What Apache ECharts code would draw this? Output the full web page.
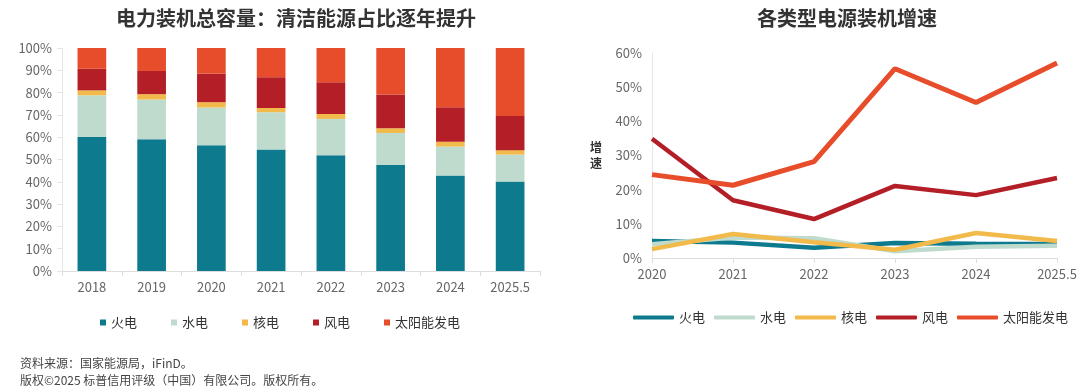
<!DOCTYPE html>
<html><head><meta charset="utf-8">
<script src="https://cdn.jsdelivr.net/npm/echarts@6/dist/echarts.min.js"></script>
<style>html,body{margin:0;padding:0;background:#fff}#c{width:1080px;height:389px}</style>
</head><body><div id="c"></div>
<script>
// ---- Data ----
const barCategories = ['2018','2019','2020','2021','2022','2023','2024','2025.5'];
const seriesNames = ['火电','水电','核电','风电','太阳能发电'];
// share of total installed capacity (%)
const shareThermal = [60.1, 59.1, 56.4, 54.5, 51.9, 47.5, 42.8, 40.1];
const shareHydro   = [18.7, 17.8, 16.9, 16.7, 16.3, 14.4, 13.0, 12.1];
const shareNuclear = [2.2, 2.4, 2.4, 1.9, 2.2, 2.1, 2.2, 2.0];
const shareWind    = [9.7, 10.4, 12.8, 13.8, 14.2, 15.1, 15.4, 15.3];
const shareSolar   = [9.3, 10.3, 11.5, 13.1, 15.4, 20.9, 26.6, 30.5];
const lineCategories = ['2020','2021','2022','2023','2024','2025.5'];
// growth rate (%)
const growthThermal = [5.0, 4.5, 3.0, 4.4, 4.2, 4.1];
const growthHydro   = [4.0, 6.0, 5.8, 2.0, 3.3, 3.6];
const growthNuclear = [2.6, 7.0, 4.6, 2.4, 7.3, 5.0];
const growthWind    = [34.9, 16.9, 11.4, 21.1, 18.4, 23.4];
const growthSolar   = [24.4, 21.3, 28.2, 55.4, 45.5, 57.1];

const colors = ['#0d7a8e','#bfdbce','#f2b94b','#b41f27','#e74c2b'];
const font = '"Noto Sans CJK SC", "Noto Sans", sans-serif';
const shares = [shareThermal, shareHydro, shareNuclear, shareWind, shareSolar];
const growth = [growthThermal, growthHydro, growthNuclear, growthWind, growthSolar];

const chart = echarts.init(document.getElementById('c'), null, {renderer:'canvas'});
const series = [];
seriesNames.forEach((n,i)=>{
  series.push({name:n, type:'bar', stack:'s', xAxisIndex:0, yAxisIndex:0, data:shares[i],
    barWidth:'48%', itemStyle:{color:colors[i]}, emphasis:{disabled:true}});
});
const lineOrder = [1,0,2,3,4];
lineOrder.forEach(i=>{
  series.push({name:seriesNames[i], type:'line', xAxisIndex:1, yAxisIndex:1, data:growth[i],
    symbol:'none', lineStyle:{width: i===4?5:4.5, color:colors[i]}, itemStyle:{color:colors[i]},
    z: 2+i, emphasis:{disabled:true}});
});
const axisLabel = {color:'#666', fontSize:13, fontFamily:font};
chart.setOption({
  animation:false,
  title:[
    {text:'电力装机总容量：清洁能源占比逐年提升', left:291, top:3, textAlign:'center',
      textStyle:{fontSize:20, fontWeight:'bold', color:'#333', fontFamily:font}},
    {text:'各类型电源装机增速', left:842, top:3, textAlign:'center',
      textStyle:{fontSize:20, fontWeight:'bold', color:'#333', fontFamily:font}},
    {text:'资料来源：国家能源局，iFinD。', left:15, top:352,
      textStyle:{fontSize:12, fontWeight:'normal', color:'#444', fontFamily:font}},
    {text:'版权©2025 标普信用评级（中国）有限公司。版权所有。', left:15, top:369,
      textStyle:{fontSize:12, fontWeight:'normal', color:'#444', fontFamily:font}}
  ],
  legend:[
    {data:seriesNames, left:95, top:311, icon:'rect', itemWidth:6, itemHeight:6, itemGap:34,
      textStyle:{fontSize:13, color:'#333', fontFamily:font}, selectedMode:false},
    {data:seriesNames, left:633, top:311, width:447, padding:0, icon:'roundRect', itemWidth:41, itemHeight:4, itemGap:9,
      textStyle:{fontSize:13, color:'#333', fontFamily:font}, selectedMode:false}
  ],
  grid:[
    {left:62, right:540, top:48, bottom:118},
    {left:652, right:23, top:53, bottom:131}
  ],
  xAxis:[
    {type:'category', gridIndex:0, data:barCategories,
      axisLine:{lineStyle:{color:'#ddd'}}, axisTick:{show:true, lineStyle:{color:'#ddd'}},
      axisLabel:Object.assign({margin:10}, axisLabel)},
    {type:'category', gridIndex:1, data:lineCategories, boundaryGap:false,
      axisLine:{lineStyle:{color:'#ddd'}}, axisTick:{show:true, lineStyle:{color:'#ddd'}},
      axisLabel:Object.assign({margin:10}, axisLabel)}
  ],
  yAxis:[
    {type:'value', gridIndex:0, min:0, max:100, interval:10,
      axisLine:{show:true, lineStyle:{color:'#e6e6e6'}}, axisTick:{show:true, lineStyle:{color:'#e6e6e6'}},
      splitLine:{show:false}, axisLabel:Object.assign({formatter:'{value}%', margin:10}, axisLabel)},
    {type:'value', gridIndex:1, min:0, max:60, interval:10,
      name:'增\n速', nameLocation:'middle', nameRotate:0, nameGap:50,
      nameTextStyle:{fontSize:12, fontWeight:'bold', color:'#333', fontFamily:font, lineHeight:16},
      axisLine:{show:true, lineStyle:{color:'#e6e6e6'}}, axisTick:{show:false},
      splitLine:{show:false}, axisLabel:Object.assign({formatter:'{value}%', margin:10}, axisLabel)}
  ],
  series:series
});
</script></body></html>
